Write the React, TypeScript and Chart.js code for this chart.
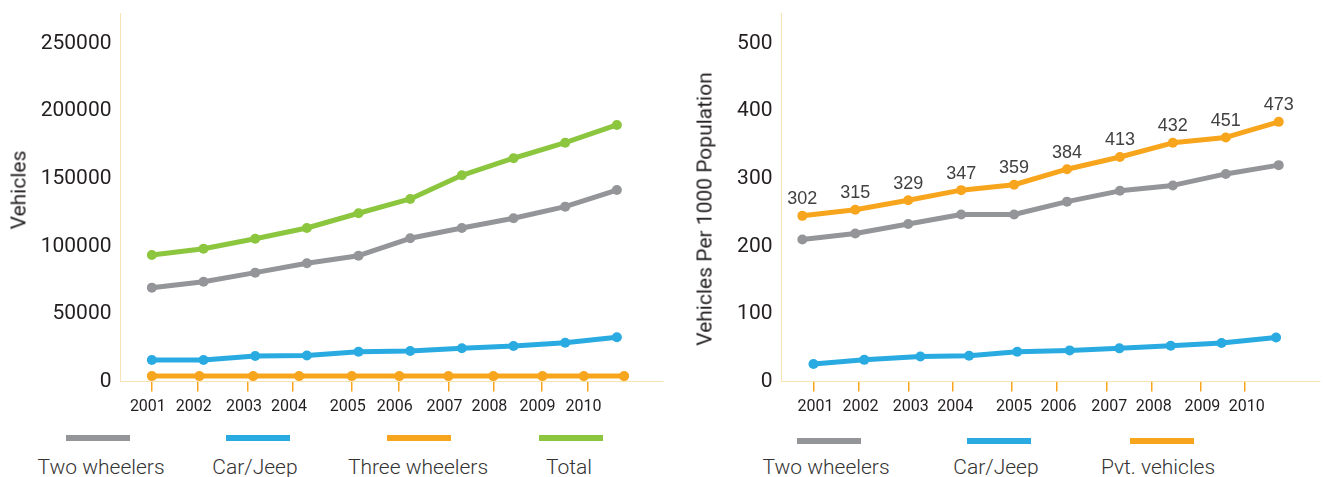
import React, { useEffect, useRef } from "react";
import { Chart, registerables } from "chart.js";

Chart.register(...registerables);

// ---------- data ----------
const yearLabels = ["2001", "2002", "2003", "2004", "2005", "2006", "2007", "2008", "2009", "2010"];
const years = [2001, 2002, 2003, 2004, 2005, 2006, 2007, 2008, 2009, 2010];

// tick positions along the year axis (as drawn in the original, slightly irregular)
const leftTickYears = [2001.0, 2001.89, 2002.86, 2003.73, 2004.87, 2005.78, 2006.74, 2007.61, 2008.54, 2009.43];
const rightTickYears = [2001.21, 2002.06, 2003.01, 2003.85, 2004.96, 2005.8, 2006.76, 2007.6, 2008.52, 2009.36];

const leftYTicks = [0, 50000, 100000, 150000, 200000, 250000];
const rightYTicks = [0, 100, 200, 300, 400, 500];

// left chart: number of vehicles
const twoWheelers = [69400, 73800, 80500, 87400, 93000, 105900, 113500, 120700, 129300, 141600];
const carJeep = [15900, 15900, 18900, 19200, 22000, 22600, 24600, 26300, 28700, 32700];
const threeWheelerYears = [2001.0, 2001.92, 2002.96, 2003.85, 2004.87, 2005.79, 2006.74, 2007.61, 2008.56, 2009.36, 2010.14];
const threeWheelers = [4000, 4000, 4000, 4000, 4000, 4000, 4000, 4000, 4000, 4000, 4000];
const total = [93500, 98200, 105600, 113500, 124400, 135000, 152500, 165100, 176600, 189700];

// right chart: vehicles per 1000 population
const twoWheelersPer1000 = [210, 219, 233, 247, 247, 266, 282, 290, 307, 320];
const carJeepPer1000Years = [2001.21, 2002.17, 2003.23, 2004.15, 2005.06, 2006.05, 2006.99, 2007.96, 2008.92, 2009.95];
const carJeepPer1000 = [26, 32, 37, 38, 44, 46, 49, 53, 57, 65];
const pvtVehiclesPer1000 = [245, 254, 268, 283, 291, 314, 332, 353, 361, 384];
const pvtVehicleLabels = ["302", "315", "329", "347", "359", "384", "413", "432", "451", "473"];

// ---------- styles ----------
const GRAY = "#949599";
const BLUE = "#29abe2";
const ORANGE = "#f8a51e";
const GREEN = "#8cc63f";
const AXIS = "#f6e2b3";
const TEXT = "#231f20";
const FONT = "Roboto";

function lineDataset(label: string, color: string, xs: number[], ys: number[]) {
  return {
    label,
    data: xs.map((x, i) => ({ x, y: ys[i] })),
    borderColor: color,
    backgroundColor: color,
    pointBackgroundColor: color,
    pointBorderColor: color,
    borderWidth: 5,
    pointRadius: 5,
    pointBorderWidth: 0,
    tension: 0,
    borderJoinStyle: "round" as const,
    borderCapStyle: "round" as const,
  };
}

function makeOptions(cfg: {
  xMin: number;
  xMax: number;
  tickYears: number[];
  labelOffset: number;
  yMax: number;
  yTicks: number[];
  yWidth: number;
  padRight: number;
}) {
  return {
    responsive: false,
    animation: false as const,
    events: [] as any[],
    layout: { padding: { top: 13, right: cfg.padRight, left: 0, bottom: 0 } },
    plugins: { legend: { display: false }, tooltip: { enabled: false } },
    scales: {
      x: {
        type: "linear" as const,
        min: cfg.xMin,
        max: cfg.xMax,
        afterFit: (s: any) => {
          s.height = 38.5;
          s.paddingLeft = 0;
          s.paddingRight = 0;
        },
        afterBuildTicks: (s: any) => {
          s.ticks = cfg.tickYears.map((v) => ({ value: v }));
        },
        grid: {
          display: true,
          drawOnChartArea: false,
          drawTicks: true,
          tickLength: 10,
          color: ORANGE,
          lineWidth: 1.5,
        },
        border: { display: true, color: AXIS, width: 1 },
        ticks: {
          autoSkip: false,
          maxRotation: 0,
          padding: 6,
          labelOffset: cfg.labelOffset,
          color: TEXT,
          font: { family: FONT, size: 16 },
          callback: (_v: any, i: number) => yearLabels[i],
        },
      },
      y: {
        type: "linear" as const,
        min: 0,
        max: cfg.yMax,
        afterFit: (s: any) => {
          s.width = cfg.yWidth;
          s.paddingTop = 0;
          s.paddingBottom = 0;
        },
        afterBuildTicks: (s: any) => {
          s.ticks = cfg.yTicks.map((v) => ({ value: v }));
        },
        grid: { display: false, drawTicks: false },
        border: { display: true, color: AXIS, width: 1 },
        ticks: {
          padding: 9,
          color: TEXT,
          font: { family: FONT, size: 21 },
          callback: (v: any) => String(v),
        },
      },
    },
  };
}

const pointLabelsPlugin = {
  id: "pvtLabels",
  afterDatasetsDraw(chart: any) {
    const meta = chart.getDatasetMeta(2);
    const ctx = chart.ctx;
    ctx.save();
    ctx.font = "18px 'Liberation Sans', Arial, sans-serif";
    ctx.fillStyle = "#414042";
    ctx.textAlign = "center";
    ctx.textBaseline = "middle";
    meta.data.forEach((pt: any, i: number) => {
      ctx.fillText(pvtVehicleLabels[i], pt.x, pt.y - 16.5);
    });
    ctx.restore();
  },
};

function LeftChart() {
  const ref = useRef<HTMLCanvasElement | null>(null);
  useEffect(() => {
    if (!ref.current) return;
    const chart = new Chart(ref.current, {
      type: "line",
      data: {
        datasets: [
          lineDataset("Two wheelers", GRAY, years, twoWheelers),
          lineDataset("Car/Jeep", BLUE, years, carJeep),
          lineDataset("Three wheelers", ORANGE, threeWheelerYears, threeWheelers),
          lineDataset("Total", GREEN, years, total),
        ],
      },
      options: makeOptions({
        xMin: 2000.393,
        xMax: 2010.893,
        tickYears: leftTickYears,
        labelOffset: -4,
        yMax: 272500,
        yTicks: leftYTicks,
        yWidth: 120.5,
        padRight: 17,
      }) as any,
    });
    return () => chart.destroy();
  }, []);
  return (
    <canvas
      ref={ref}
      width={680}
      height={420}
      style={{ position: "absolute", left: 0, top: 0, width: 680, height: 420 }}
    />
  );
}

function RightChart() {
  const ref = useRef<HTMLCanvasElement | null>(null);
  useEffect(() => {
    if (!ref.current) return;
    const chart = new Chart(ref.current, {
      type: "line",
      data: {
        datasets: [
          lineDataset("Two wheelers", GRAY, years, twoWheelersPer1000),
          lineDataset("Car/Jeep", BLUE, carJeepPer1000Years, carJeepPer1000),
          lineDataset("Pvt. vehicles", ORANGE, years, pvtVehiclesPer1000),
        ],
      },
      options: makeOptions({
        xMin: 2000.606,
        xMax: 2010.78,
        tickYears: rightTickYears,
        labelOffset: 2,
        yMax: 545,
        yTicks: rightYTicks,
        yWidth: 101.5,
        padRight: 0,
      }) as any,
      plugins: [pointLabelsPlugin],
    });
    return () => chart.destroy();
  }, []);
  return (
    <canvas
      ref={ref}
      width={645}
      height={420}
      style={{ position: "absolute", left: 680, top: 0, width: 645, height: 420 }}
    />
  );
}

function LegendItem(props: { color: string; segLeft: number; segTop: number; text: string; textCenter: number }) {
  return (
    <>
      <div
        style={{
          position: "absolute",
          left: props.segLeft,
          top: props.segTop - 3,
          width: 64,
          height: 6,
          background: props.color,
        }}
      />
      <div
        style={{
          position: "absolute",
          left: props.textCenter - 100,
          top: 466.5 - 12,
          width: 200,
          height: 24,
          lineHeight: "24px",
          textAlign: "center",
          fontFamily: FONT,
          fontWeight: 300,
          fontSize: 21,
          color: "#333333",
          whiteSpace: "nowrap",
        }}
      >
        {props.text}
      </div>
    </>
  );
}

function AxisTitle(props: { cx: number; cy: number; text: string }) {
  return (
    <div
      style={{
        position: "absolute",
        left: props.cx,
        top: props.cy,
        transform: "translate(-50%, -50%) rotate(-90deg)",
        fontFamily: FONT,
        fontSize: 21,
        lineHeight: "25px",
        color: TEXT,
        whiteSpace: "nowrap",
      }}
    >
      {props.text}
    </div>
  );
}

export default function App() {
  return (
    <div
      style={{
        position: "absolute",
        left: 0,
        top: 0,
        width: 1325,
        height: 477,
        background: "#ffffff",
        overflow: "hidden",
      }}
    >
      <LeftChart />
      <RightChart />
      <AxisTitle cx={18.5} cy={190} text="Vehicles" />
      <AxisTitle cx={705} cy={209} text="Vehicles Per 1000 Population" />

      <LegendItem color={GRAY} segLeft={66} segTop={438} text="Two wheelers" textCenter={101} />
      <LegendItem color={BLUE} segLeft={226} segTop={438} text="Car/Jeep" textCenter={255} />
      <LegendItem color={ORANGE} segLeft={387} segTop={438} text="Three wheelers" textCenter={418} />
      <LegendItem color={GREEN} segLeft={539} segTop={438} text="Total" textCenter={569} />

      <LegendItem color={GRAY} segLeft={797} segTop={441} text="Two wheelers" textCenter={826} />
      <LegendItem color={BLUE} segLeft={967} segTop={441} text="Car/Jeep" textCenter={996} />
      <LegendItem color={ORANGE} segLeft={1130} segTop={441} text="Pvt. vehicles" textCenter={1158} />
    </div>
  );
}
